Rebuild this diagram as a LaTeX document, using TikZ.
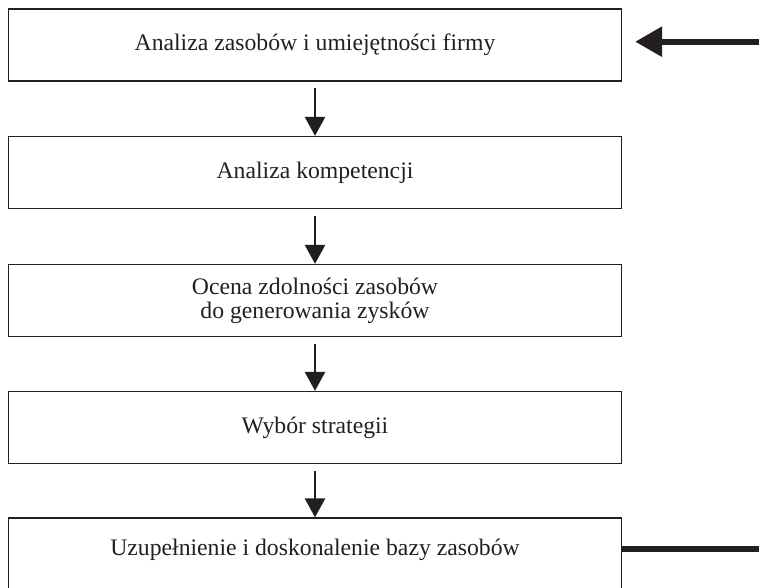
\documentclass[tikz,border=0pt]{standalone}
\usepackage{fontspec}
\setmainfont{Liberation Serif}
\usetikzlibrary{arrows.meta,calc}
\definecolor{ink}{HTML}{231F20}
\begin{document}
\begin{tikzpicture}[x=1pt,y=-1pt,
  stepbox/.style={draw=ink,line width=1.3pt,minimum width=613pt,minimum height=72pt,
    inner sep=0pt,align=center,text=ink,font=\fontsize{23.7}{24}\selectfont},
  flow/.style={draw=ink,line width=2.7pt,-{Triangle[length=19pt,width=20pt]}},
  bigflow/.style={draw=ink,line width=6pt},
]
\useasboundingbox (0,0) rectangle (759,587);
\node[stepbox] (b1) at (315,45) {Analiza zasobów i umiejętności firmy};
\node[stepbox] (b2) at (315,172.5) {Analiza kompetencji};
\node[stepbox] (b3) at (315,300.5) {Ocena zdolności zasobów\\do generowania zysków};
\node[stepbox] (b4) at (315,427.5) {Wybór strategii};
% the last box runs on past the lower edge; its text sits a little higher
\node[stepbox,text depth=13pt] (b5) at (315,554) {Uzupełnienie i doskonalenie bazy zasobów};
\foreach \a/\b in {b1/b2,b2/b3,b3/b4,b4/b5}
  \draw[flow] ($(\a.south)+(0,6.5)$) -- (\b.north);
\coordinate (inE) at (759,41.7);
\coordinate (outE) at (759,549);
\draw[bigflow,-{Triangle[length=27pt,width=29pt]},shorten >=13pt] (inE) -- (b1.east |- inE);
\draw[bigflow] (b5.east |- outE) -- (outE);
\end{tikzpicture}
\end{document}
